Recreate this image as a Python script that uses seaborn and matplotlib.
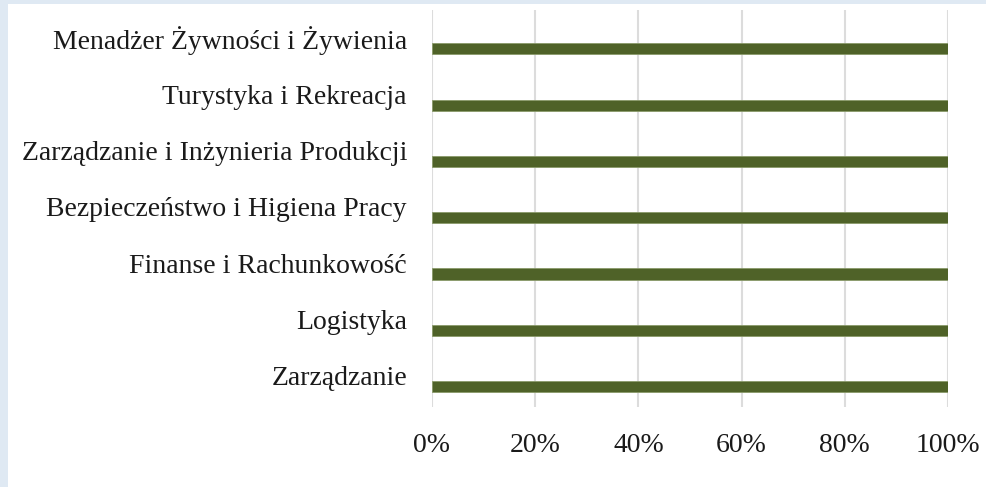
import pandas as pd
import seaborn as sns
import matplotlib.pyplot as plt
from matplotlib.patches import Rectangle
from matplotlib.transforms import ScaledTranslation

# Kierunki studiow (od gory) i udzial procentowy
kierunki = [
    "Menadżer Żywności i Żywienia",
    "Turystyka i Rekreacja",
    "Zarządzanie i Inżynieria Produkcji",
    "Bezpieczeństwo i Higiena Pracy",
    "Finanse i Rachunkowość",
    "Logistyka",
    "Zarządzanie",
]
udzial = [100, 100, 100, 100, 100, 100, 100]
ticks = [0, 20, 40, 60, 80, 100]
tick_labels = ["0%", "20%", "40%", "60%", "80%", "100%"]

df = pd.DataFrame({"kierunek": kierunki, "udzial": udzial})

sns.set_theme(style="white")
plt.rcParams['font.family'] = ['Liberation Serif', 'DejaVu Serif']

fig = plt.figure(figsize=(9.86, 4.87), dpi=100)
fig.patch.set_facecolor("#dfe9f3")
# white panel like the screenshot, with a thin bluish edge at left/top
fig.patches.append(Rectangle((8 / 986, 0), 1, 1 - 4 / 487, transform=fig.transFigure,
                             facecolor="white", edgecolor="none", zorder=-10))

ax = fig.add_axes([432 / 986, 1 - 407 / 487, 516 / 986, 397 / 487])
ax.set_facecolor("none")

sns.barplot(data=df, x="udzial", y="kierunek", color="#4f6228", width=0.2,
            edgecolor="#8a9a6a", linewidth=0.6, saturation=1, ax=ax, zorder=3)

ax.set_xlim(0, 100)
ax.set_ylim(6.36, -0.69)
ax.set_xticks(ticks)
ax.set_xticklabels(tick_labels)
ax.grid(axis="x", color="#dcdcdc", linewidth=1.5, zorder=0)
ax.set_axisbelow(True)
ax.set_xlabel("")
ax.set_ylabel("")
for s in ax.spines.values():
    s.set_visible(False)
ax.tick_params(axis="y", length=0, pad=18, labelsize=20, labelcolor="#1a1a1a")
ax.tick_params(axis="x", length=0, pad=19, labelsize=20, labelcolor="#1a1a1a")

# category labels sit a bit above the bars, as in the original
shift = ScaledTranslation(0, 11 / 100, fig.dpi_scale_trans)
for lab in ax.get_yticklabels():
    lab.set_transform(lab.get_transform() + shift)

plt.savefig("out.png", dpi=100)
